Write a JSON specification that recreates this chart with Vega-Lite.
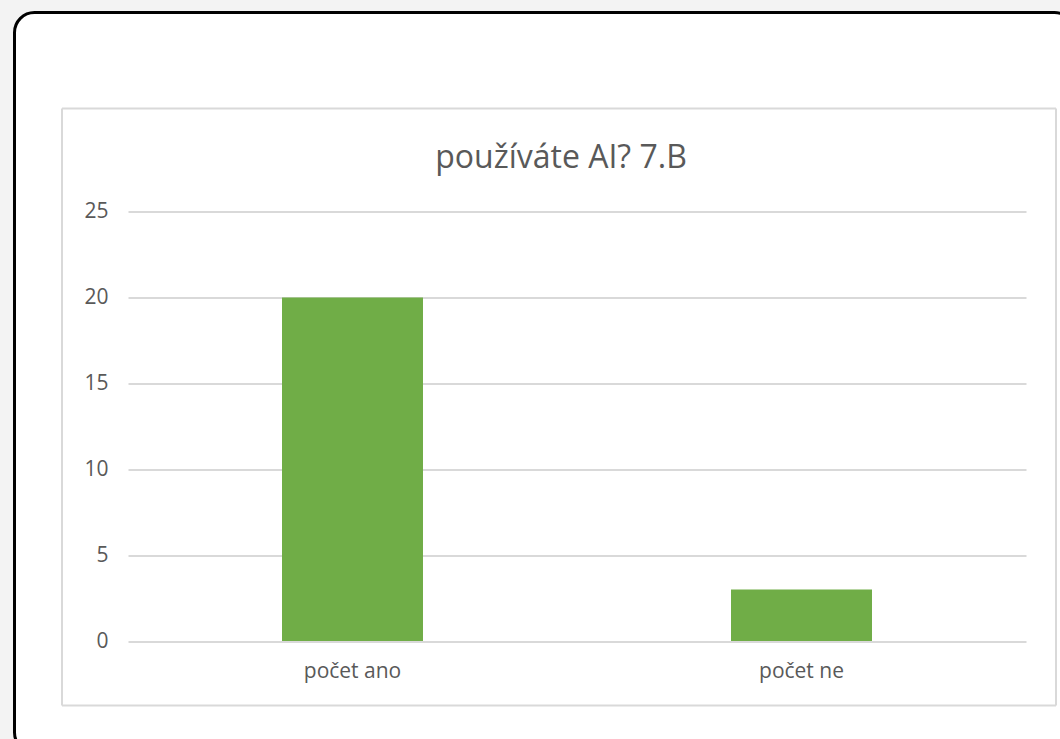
{
  "$schema": "https://vega.github.io/schema/vega-lite/v6.json",
  "autosize": "none",
  "padding": {"left": 14.5, "top": 12.5, "right": 0, "bottom": 0},
  "width": 1060,
  "height": 740,
  "background": "#f3f3f3",
  "config": {
    "view": {"fill": "white", "stroke": "black", "strokeWidth": 3, "cornerRadius": 20},
    "font": "Open Sans"
  },
  "title": {
    "text": "používáte AI? 7.B",
    "fontSize": 32,
    "fontWeight": "normal",
    "color": "#595959",
    "anchor": "middle",
    "offset": -162,
    "dx": 16.5,
    "font": "Open Sans"
  },
  "data": {"values": [
    {"kategorie": "počet ano", "pocet": 20},
    {"kategorie": "počet ne", "pocet": 3}
  ]},
  "layer": [
    {
      "mark": {"type": "bar", "color": "#70ad47"},
      "encoding": {
        "x": {
          "field": "kategorie", "type": "nominal", "sort": null,
          "scale": {"range": [113.5, 1011.5], "paddingInner": 0.686, "paddingOuter": 0.343},
          "axis": {"title": null, "orient": "bottom", "offset": -111.5, "domain": false, "ticks": false, "labelAngle": 0, "labelFontSize": 21, "labelColor": "#595959", "labelPadding": 19, "grid": false, "labelFont": "Open Sans"}
        },
        "y": {
          "field": "pocet", "type": "quantitative",
          "scale": {"domain": [0, 25], "range": [628.5, 199], "nice": false},
          "axis": {"title": null, "orient": "left", "offset": -113.5, "values": [0, 5, 10, 15, 20, 25], "domain": false, "ticks": false, "grid": true, "gridColor": "#d9d9d9", "gridWidth": 2, "labelFontSize": 21, "labelColor": "#595959", "labelPadding": 20, "labelFont": "Open Sans"}
        }
      }
    },
    {
      "mark": {"type": "point", "opacity": 0},
      "encoding": {
        "x": {
          "field": "pocet", "type": "quantitative",
          "scale": {"range": [47, 1041]},
          "axis": {"orient": "top", "offset": -95.5, "title": null, "labels": false, "ticks": false, "grid": false, "domainColor": "#d9d9d9", "domainWidth": 2}
        },
        "y": {
          "field": "pocet", "type": "quantitative",
          "scale": {"range": [692.5, 95.5]},
          "axis": {"orient": "left", "offset": -47, "title": null, "labels": false, "ticks": false, "grid": false, "domainColor": "#d9d9d9", "domainWidth": 2}
        }
      }
    },
    {
      "mark": {"type": "point", "opacity": 0},
      "encoding": {
        "x": {
          "field": "pocet", "type": "quantitative",
          "scale": {"range": [47, 1041]},
          "axis": {"orient": "bottom", "offset": -47.5, "title": null, "labels": false, "ticks": false, "grid": false, "domainColor": "#d9d9d9", "domainWidth": 2}
        },
        "y": {
          "field": "pocet", "type": "quantitative",
          "scale": {"range": [692.5, 95.5]},
          "axis": {"orient": "right", "offset": -19, "title": null, "labels": false, "ticks": false, "grid": false, "domainColor": "#d9d9d9", "domainWidth": 2}
        }
      }
    }
  ],
  "resolve": {
    "scale": {"x": "independent", "y": "independent"},
    "axis": {"x": "independent", "y": "independent"}
  }
}
